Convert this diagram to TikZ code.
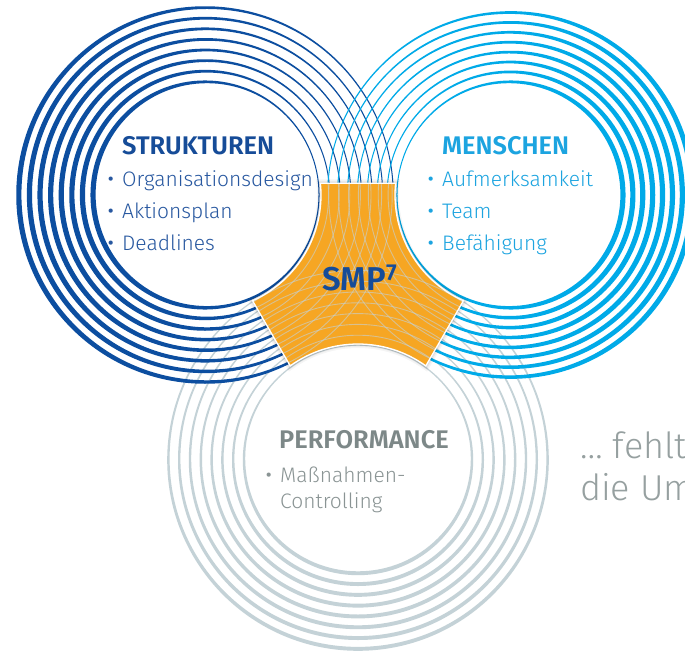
\documentclass[tikz,border=0pt]{standalone}
\usepackage{fontspec}
\setmainfont{Fira Sans Light}[BoldFont={Fira Sans SemiBold}]

\definecolor{deepblue}{RGB}{12,78,160}
\definecolor{skyblue}{RGB}{0,170,232}
\definecolor{mist}{RGB}{196,210,215}
\definecolor{amber}{RGB}{246,166,35}
\definecolor{headblue}{RGB}{22,76,152}
\definecolor{itemblue}{RGB}{40,88,160}
\definecolor{menschblue}{RGB}{28,164,224}
\definecolor{perfgray}{RGB}{125,136,136}
\definecolor{itemgray}{RGB}{138,148,148}
\definecolor{sidegray}{RGB}{150,160,160}

% eight concentric crescent rings: centre x, centre y, colour,
% direction of the thin side, mean width, width swing, inner radius, step
\newcommand\ringset[8]{%
  \foreach \k in {0,...,7}{%
    \pgfmathsetmacro\rmid{#7+\k*#8}%
    \pgfmathsetmacro\rout{\rmid+#5/2}%
    \pgfmathsetmacro\rin{\rmid-#5/2}%
    \pgfmathsetmacro\ox{#1+#6*cos(#4)}%
    \pgfmathsetmacro\oy{#2-#6*sin(#4)}%
    \fill[#3,even odd rule] (#1,#2) circle[radius=\rout pt] (\ox,\oy) circle[radius=\rin pt];
  }}
% thin centre lines of the same rings
\newcommand\ringlines[4]{%
  \foreach \k in {0,...,7}{%
    \pgfmathsetmacro\rmid{#3+\k*#4}%
    \draw (#1,#2) circle[radius=\rmid pt];
  }}
\newcommand\bul{\makebox[14pt][l]{\raisebox{.05em}{\bfseries\scalebox{.75}{•}}}}

\begin{document}
\begin{tikzpicture}[x=1pt,y=-1pt,
  heading/.style={font=\bfseries\fontsize{25.5}{30}\selectfont, anchor=base west, inner sep=0pt},
  entry/.style={font=\fontsize{21}{25}\selectfont, anchor=base west, inner sep=0pt},
  faint/.style={draw=mist, opacity=.6, line width=.9pt}]
\useasboundingbox (0,0) rectangle (685,653);
\fill[white] (0,0) rectangle (685,653);
\clip (0,0) rectangle (685,653);

% ring sets
\ringset{358}{460}{mist}{90}{2.4}{1.5}{114}{10.8}
\ringset{205}{195}{deepblue}{10}{3.1}{2.1}{113}{10.6}
\ringset{511}{195}{skyblue}{170}{3.1}{2.1}{113}{9.9}

% central three-cornered hub
\path[save path=\hubpath]
  (320.41,183.33) -- (395.59,183.33)
  arc[start angle=174.23, end angle=245.77, radius=116pt]
  -- (425.81,365.88)
  arc[start angle=54.23, end angle=125.77, radius=116pt]
  -- (252.61,300.78)
  arc[start angle=-65.77, end angle=5.77, radius=116pt] -- cycle;
\draw[black, opacity=.04, line width=8pt, use path=\hubpath];
\draw[black, opacity=.05, line width=5pt, use path=\hubpath];
\draw[black, opacity=.06, line width=2.6pt, use path=\hubpath];
\fill[amber, use path=\hubpath];
\begin{scope}
  \clip[use path=\hubpath];
  \begin{scope}[faint]
    \ringlines{358}{460}{114}{10.8}
    \ringlines{205}{195}{113}{10.6}
    \ringlines{511}{195}{113}{9.9}
  \end{scope}
\end{scope}
\draw[white, line width=1.3pt, use path=\hubpath];

% texts
\node[heading, text=headblue] (strukturen) at (122,154) {STRUKTUREN};
\node[entry, text=itemblue] (org) at (108,186) {\bul Organisationsdesign};
\node[entry, text=itemblue] (aktion) at (108,218) {\bul Aktionsplan};
\node[entry, text=itemblue] (dead) at (108,250) {\bul Deadlines};

\node[heading, text=menschblue] (menschen) at (442,154) {MENSCHEN};
\node[entry, text=menschblue] (aufm) at (428,186) {\bul Aufmerksamkeit};
\node[entry, text=menschblue] (team) at (428,218) {\bul Team};
\node[entry, text=menschblue] (befae) at (428,250) {\bul Befähigung};

\node[anchor=base west, inner sep=0pt, text=headblue,
      font=\bfseries\fontsize{33}{36}\selectfont] (smp) at (322,290) {SMP\textsuperscript{7}};

\node[heading, text=perfgray] (perf) at (279,448) {PERFORMANCE};
\node[entry, text=itemgray] (mass) at (266,482) {\bul Maßnahmen-};
\node[entry, text=itemgray] (contr) at (280,508) {Controlling};

\node[anchor=base west, inner sep=0pt, text=sidegray,
      font=\fontsize{36}{40}\selectfont] (fehlt) at (580,458) {… fehlt};
\node[anchor=base west, inner sep=0pt, text=sidegray,
      font=\fontsize{36}{40}\selectfont] (dieum) at (580,500) {die Um};
\end{tikzpicture}
\end{document}
